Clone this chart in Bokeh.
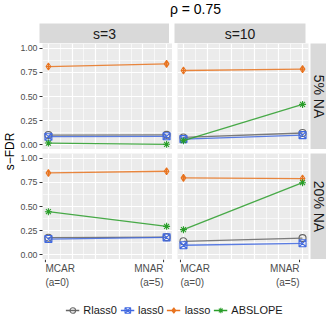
import math
from bokeh.plotting import figure
from bokeh.models import Range1d, FixedTicker, LinearAxis, Grid, ColumnDataSource, Legend, LegendItem
from bokeh.layouts import row, column
from bokeh.embed import file_html
from bokeh.resources import INLINE
from bokeh.core.properties import value

# ---------------- data ----------------
title_text = "ρ = 0.75"
y_label = "s−FDR"
a_vals = [0, 5]
x_tick_labels = ["MCAR\n(a=0)", "MNAR\n(a=5)"]
x_tick_align = ["left", "right"]
y_ticks = [0, 0.25, 0.5, 0.75, 1.0]
y_tick_labels = ["0.00", "0.25", "0.50", "0.75", "1.00"]
s_levels = ["s=3", "s=10"]
na_levels = ["5% NA", "20% NA"]
methods = ["Rlass0", "lass0", "lasso", "ABSLOPE"]

# values at MCAR (a=0) and MNAR (a=5)
rlass0_na5_s3 = [0.100, 0.102]
lass0_na5_s3 = [0.083, 0.087]
lasso_na5_s3 = [0.811, 0.838]
abslope_na5_s3 = [0.017, 0.004]

rlass0_na5_s10 = [0.075, 0.121]
lass0_na5_s10 = [0.058, 0.099]
lasso_na5_s10 = [0.770, 0.784]
abslope_na5_s10 = [0.041, 0.418]

rlass0_na20_s3 = [0.176, 0.182]
lass0_na20_s3 = [0.162, 0.180]
lasso_na20_s3 = [0.848, 0.866]
abslope_na20_s3 = [0.446, 0.294]

rlass0_na20_s10 = [0.139, 0.172]
lass0_na20_s10 = [0.098, 0.118]
lasso_na20_s10 = [0.797, 0.790]
abslope_na20_s10 = [0.260, 0.747]

panels = {
    ("5% NA", "s=3"): [rlass0_na5_s3, lass0_na5_s3, lasso_na5_s3, abslope_na5_s3],
    ("5% NA", "s=10"): [rlass0_na5_s10, lass0_na5_s10, lasso_na5_s10, abslope_na5_s10],
    ("20% NA", "s=3"): [rlass0_na20_s3, lass0_na20_s3, lasso_na20_s3, abslope_na20_s3],
    ("20% NA", "s=10"): [rlass0_na20_s10, lass0_na20_s10, lasso_na20_s10, abslope_na20_s10],
}

# ---------------- style ----------------
colors = ["#666666", "#4169E1", "#E8731F", "#2A9E2A"]
markers = ["circle", "square_x", "diamond_cross", "asterisk"]
FONT = value("Liberation Sans")
PANEL_BG = "#EBEBEB"
STRIP_BG = "#D9D9D9"
FH = 106
FW_L, FW_R = 130, 131

xr = Range1d(-0.25, 5.25)
yr = Range1d(-0.05, 1.05)


def base_fig(fw, fh, **kw):
    opts = dict(frame_width=fw, frame_height=fh, toolbar_location=None, output_backend="svg",
                x_axis_type=None, y_axis_type=None, outline_line_color=None,
                min_border_left=0, min_border_right=0, min_border_top=0, min_border_bottom=0,
                border_fill_color="white", background_fill_color="white")
    opts.update(kw)
    return figure(**opts)


def add_series(p, vals_list, alpha=0.85):
    items = []
    for m, vals, c, mk in zip(methods, vals_list, colors, markers):
        src = ColumnDataSource(dict(x=a_vals, y=vals))
        lr = p.line("x", "y", source=src, line_color=c, line_width=1.3, line_alpha=alpha)
        sr = p.scatter("x", "y", source=src, marker=mk, size=7, line_color=c, line_width=1.1,
                       fill_color=None)
        items.append(LegendItem(label=m, renderers=[lr, sr]))
    return items


def panel(na, s, fw, left_axis, top_pad, right_pad):
    p = base_fig(fw, FH, x_range=xr, y_range=yr, background_fill_color=PANEL_BG,
                 min_border_left=22 if left_axis else 5, min_border_right=right_pad,
                 min_border_top=top_pad)
    gx = Grid(dimension=0, ticker=FixedTicker(ticks=[0, 1, 2, 3, 4, 5],
                                              minor_ticks=[0.5, 1.5, 2.5, 3.5, 4.5]))
    gy = Grid(dimension=1, ticker=FixedTicker(ticks=y_ticks,
                                              minor_ticks=[0.125, 0.375, 0.625, 0.875]))
    for g in (gx, gy):
        g.grid_line_color = "white"
        g.grid_line_width = 1.2
        g.minor_grid_line_color = "white"
        g.minor_grid_line_width = 0.6
        p.add_layout(g)
    if left_axis:
        ax = LinearAxis(ticker=FixedTicker(ticks=y_ticks),
                        major_label_overrides={t: l for t, l in zip(y_ticks, y_tick_labels)})
        ax.axis_line_color = None
        ax.major_tick_line_color = "#333333"
        ax.major_tick_out = 3
        ax.major_tick_in = 0
        ax.minor_tick_line_color = None
        ax.major_label_text_font = "Liberation Sans"
        ax.major_label_text_font_size = "8.8px"
        ax.major_label_text_color = "#4D4D4D"
        ax.major_label_standoff = 2
        p.add_layout(ax, "left")
    add_series(p, panels[(na, s)])
    return p


def strip_top(label, fw, left_pad, right_pad):
    p = base_fig(fw, 20, x_range=Range1d(0, 1), y_range=Range1d(0, 1),
                 background_fill_color=STRIP_BG, min_border_left=left_pad, min_border_right=right_pad)
    p.text(x=[0.5], y=[0.5], text=[label], text_align="center", text_baseline="middle",
           text_font=FONT, text_font_size="14px", text_color="#1A1A1A")
    return p


def strip_right(label, top_pad):
    p = base_fig(16, FH, x_range=Range1d(0, 1), y_range=Range1d(0, 1),
                 background_fill_color=STRIP_BG, min_border_top=top_pad)
    p.text(x=[0.5], y=[0.5], text=[label], text_align="center", text_baseline="middle",
           angle=-math.pi / 2, text_font=FONT, text_font_size="14px", text_color="#1A1A1A")
    return p


def xlab(fw, left_pad, right_pad):
    p = base_fig(fw, 32, x_range=xr, y_range=Range1d(0, 32),
                 min_border_left=left_pad, min_border_right=right_pad)
    p.segment(x0=a_vals, x1=a_vals, y0=[32, 32], y1=[29.3, 29.3], line_color="#333333", line_width=1)
    src = ColumnDataSource(dict(x=a_vals, y=[29, 29], t=x_tick_labels, al=x_tick_align))
    p.text(x="x", y="y", text="t", text_align="al", source=src, text_baseline="top",
           text_font=FONT, text_font_size="10px", text_color="#4D4D4D", text_line_height=1.3)
    return p


# title
title_fig = base_fig(323, 23, x_range=Range1d(0, 323), y_range=Range1d(0, 23))
title_fig.text(x=[171], y=[15], text=[title_text], text_align="center", text_baseline="middle",
               text_font=FONT, text_font_size="14px", text_color="black")

strip_row = row(strip_top(s_levels[0], FW_L, 39, 0), strip_top(s_levels[1], FW_R, 5, 2))

ylab_fig = base_fig(17, 216, x_range=Range1d(0, 1), y_range=Range1d(0, 1))
ylab_fig.text(x=[0.55], y=[0.5], text=[y_label], text_align="center", text_baseline="middle",
              angle=math.pi / 2, text_font=FONT, text_font_size="12px", text_color="black")

row1 = row(panel(na_levels[0], s_levels[0], FW_L, True, 0, 0),
           panel(na_levels[0], s_levels[1], FW_R, False, 0, 2),
           strip_right(na_levels[0], 0))
row2 = row(panel(na_levels[1], s_levels[0], FW_L, True, 4, 0),
           panel(na_levels[1], s_levels[1], FW_R, False, 4, 2),
           strip_right(na_levels[1], 4))
mid = row(ylab_fig, column(row1, row2))

xlab_row = row(xlab(FW_L, 39, 0), xlab(FW_R, 5, 2))

leg_fig = base_fig(300, 14, x_range=Range1d(10, 11), y_range=Range1d(10, 11),
                   min_border_left=24, min_border_top=12, min_border_bottom=8)
items = add_series(leg_fig, panels[("5% NA", "s=3")], alpha=1.0)
legend = Legend(items=items, orientation="horizontal", location="center",
                glyph_width=14, glyph_height=14, label_standoff=4, spacing=3,
                padding=0, margin=0, border_line_color=None, background_fill_alpha=0,
                label_text_font="Liberation Sans", label_text_font_size="11px",
                label_text_color="#1A1A1A", label_height=14)
leg_fig.add_layout(legend)

root = column(title_fig, strip_row, mid, xlab_row, leg_fig)

open("out.html", "w").write(file_html(root, INLINE))
